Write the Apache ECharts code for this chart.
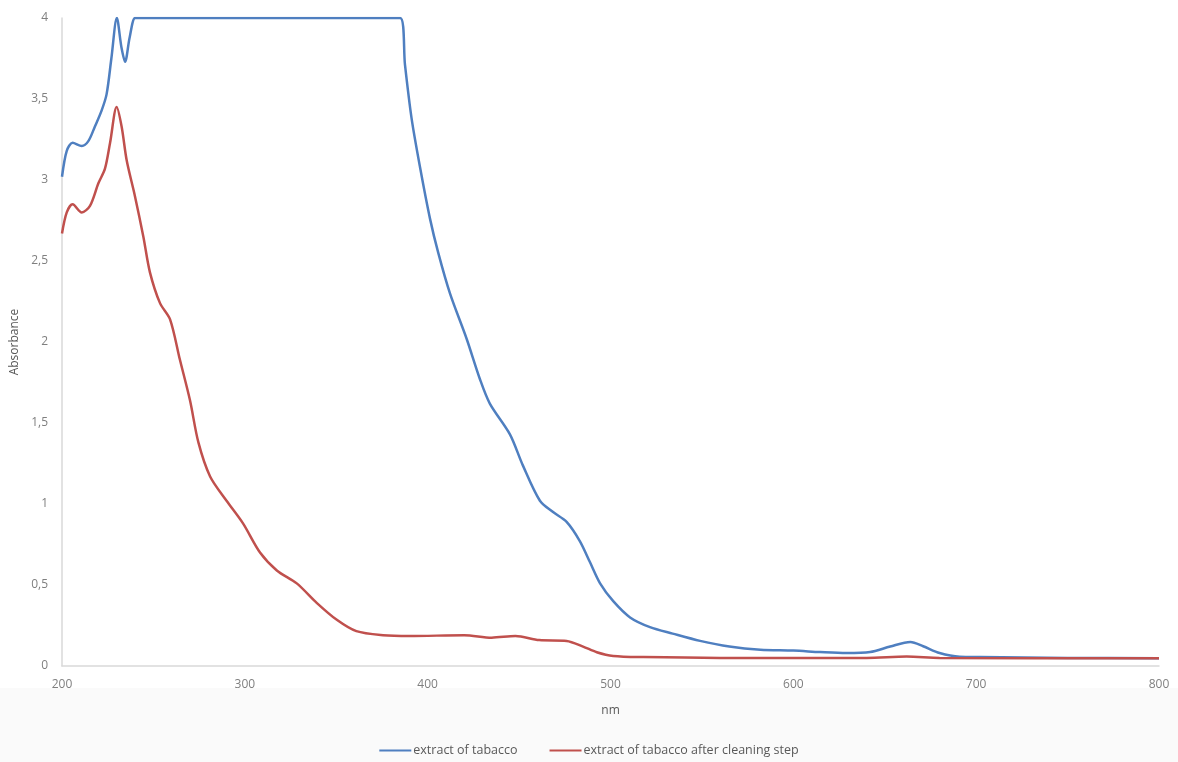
<!DOCTYPE html>
<html><head><meta charset="utf-8">
<script src="https://cdn.jsdelivr.net/npm/echarts@6/dist/echarts.min.js"></script>
<style>html,body{margin:0;padding:0;background:#fff}#c{width:1178px;height:762px}</style>
</head><body><div id="c"></div>
<script>
var blueNm = [200,202.6,205.8,210.8,214.4,218,221.7,224.4,227,230,232.5,234.5,237,240,243,385,387.6,391.2,395.8,401.3,405.8,412.2,421.3,428.6,434,445,452,461.4,468.6,476,483.3,488.8,494.3,501.5,510.7,521.6,534,549,565,582,600,614.6,629,642,653,664,671,680,691,702,750,800];
var blueVal = [3.02,3.18,3.23,3.21,3.24,3.33,3.43,3.53,3.75,4.0,3.82,3.73,3.88,4.0,4.0,4.0,3.71,3.38,3.08,2.76,2.55,2.30,2.02,1.77,1.62,1.43,1.24,1.02,0.95,0.89,0.77,0.64,0.51,0.40,0.30,0.24,0.20,0.155,0.12,0.10,0.095,0.086,0.08,0.086,0.12,0.148,0.122,0.08,0.057,0.055,0.05,0.048];
var redNm = [200,202.6,205.8,210.8,215.3,219.9,223.5,226.3,229.9,232.6,235.4,239.9,244.5,248.1,253.6,259.1,264.5,270,274.6,281,290,299,308.3,317.5,328.4,339.3,350.3,361,375.6,390,420,435,448,461,476,485,492.5,501.5,518,560,640,662,680,800];
var redVal = [2.67,2.80,2.85,2.80,2.84,2.98,3.07,3.23,3.45,3.33,3.12,2.90,2.65,2.43,2.24,2.14,1.89,1.64,1.38,1.17,1.02,0.88,0.70,0.59,0.51,0.39,0.285,0.215,0.19,0.185,0.19,0.175,0.185,0.16,0.155,0.12,0.085,0.062,0.055,0.05,0.05,0.058,0.05,0.048];
var seriesNames = ['extract of tabacco','extract of tabacco after cleaning step'];
var xTitle = 'nm';
var yTitle = 'Absorbance';

function pairs(xs, ys){ return xs.map(function(x,i){ return [x, ys[i]]; }); }

var chart = echarts.init(document.getElementById('c'), null, {renderer:'canvas'});
var txt = '#7f7f7f';
var font = 'Open Sans';
chart.setOption({
  animation:false,
  backgroundColor:'#ffffff',
  graphic:[{type:'rect', left:0, top:688, z:-10, shape:{width:1178, height:74}, style:{fill:'#fafafa'}}],
  grid:{left:62, right:19, top:18, bottom:96, containLabel:false},
  legend:{
    bottom:0, left:'center', itemWidth:32, itemHeight:2, itemGap:32,
    icon:'rect',
    textStyle:{color:'#595959', fontSize:12.5, fontFamily:font, padding:[0,0,0,-3]},
    data:seriesNames
  },
  xAxis:{
    type:'value', min:200, max:800, interval:100,
    name:xTitle, nameLocation:'middle', nameGap:39,
    nameTextStyle:{color:'#595959', fontSize:12, fontFamily:font},
    axisLine:{show:true, lineStyle:{color:'#d9d9d9', width:1.5}},
    axisTick:{show:false},
    splitLine:{show:false},
    axisLabel:{color:txt, fontSize:12, fontFamily:font, margin:13}
  },
  yAxis:{
    type:'value', min:0, max:4, interval:0.5,
    name:yTitle, nameLocation:'middle', nameGap:41, nameRotate:90,
    nameTextStyle:{color:'#595959', fontSize:12, fontFamily:font},
    axisLine:{show:true, lineStyle:{color:'#d9d9d9', width:1.5}},
    axisTick:{show:false},
    splitLine:{show:false},
    axisLabel:{color:txt, fontSize:12, fontFamily:font, margin:14,
      formatter:function(v){ return String(v).replace('.', ','); }}
  },
  series:[
    {name:seriesNames[0], type:'line', data:pairs(blueNm, blueVal), smooth:0.3, showSymbol:false,
     lineStyle:{color:'#4f7fc0', width:2.5}, itemStyle:{color:'#4f7fc0'}},
    {name:seriesNames[1], type:'line', data:pairs(redNm, redVal), smooth:0.3, showSymbol:false,
     lineStyle:{color:'#c0504d', width:2.5}, itemStyle:{color:'#c0504d'}}
  ]
});
</script></body></html>
